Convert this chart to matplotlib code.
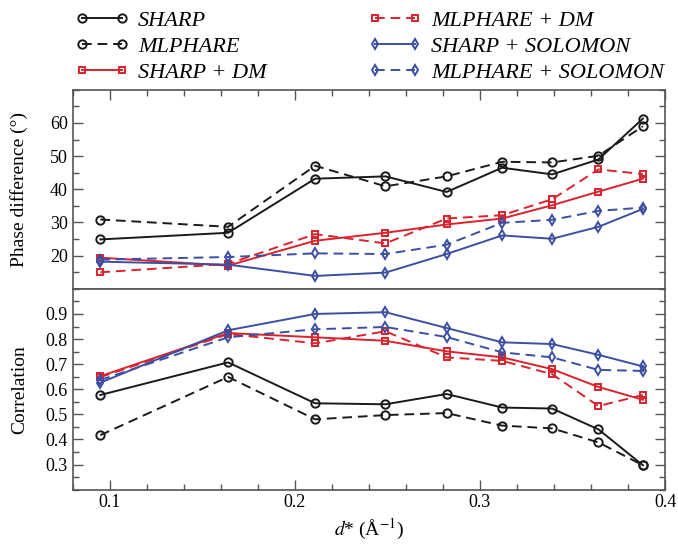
import matplotlib
matplotlib.use('Agg')
import matplotlib.pyplot as plt
from matplotlib.ticker import MultipleLocator

plt.rcParams['font.family'] = ['Liberation Serif', 'DejaVu Serif']
plt.rcParams['mathtext.fontset'] = 'stix'

# resolution shells
dstar = [0.095, 0.164, 0.211, 0.249, 0.282, 0.312, 0.339, 0.364, 0.388]

# phase difference (deg)
phase_sharp = [24.9, 26.9, 43.2, 43.9, 39.2, 46.5, 44.5, 49.0, 61.3]
phase_mlphare = [30.9, 28.7, 47.1, 40.9, 43.9, 48.3, 48.1, 50.1, 59.0]
phase_sharp_dm = [19.4, 17.0, 24.5, 26.9, 29.4, 31.2, 35.2, 39.3, 43.2]
phase_mlphare_dm = [15.0, 17.5, 26.5, 23.7, 31.2, 32.2, 37.0, 46.0, 44.6]
phase_sharp_sol = [18.2, 17.3, 13.9, 14.9, 20.5, 26.1, 25.1, 28.7, 34.1]
phase_mlphare_sol = [18.8, 19.6, 20.7, 20.5, 23.3, 29.9, 30.8, 33.5, 34.5]

# correlation
corr_sharp = [0.577, 0.707, 0.544, 0.540, 0.581, 0.527, 0.523, 0.440, 0.297]
corr_mlphare = [0.417, 0.649, 0.480, 0.497, 0.505, 0.455, 0.444, 0.388, 0.297]
corr_sharp_dm = [0.652, 0.824, 0.807, 0.793, 0.751, 0.727, 0.680, 0.609, 0.558]
corr_mlphare_dm = [0.648, 0.820, 0.783, 0.831, 0.727, 0.713, 0.660, 0.533, 0.577]
corr_sharp_sol = [0.626, 0.835, 0.900, 0.907, 0.844, 0.787, 0.780, 0.737, 0.691]
corr_mlphare_sol = [0.637, 0.807, 0.839, 0.848, 0.808, 0.747, 0.727, 0.677, 0.673]

labels = ['SHARP', 'MLPHARE', 'SHARP + DM', 'MLPHARE + DM',
          'SHARP + SOLOMON', 'MLPHARE + SOLOMON']

black = '#1a1a1a'
red = '#d9232d'
blue = '#3b4fa3'
styles = [
    dict(color=black, ls='-', marker='o', ms=6),
    dict(color=black, ls=(0, (5, 3)), marker='o', ms=6),
    dict(color=red, ls='-', marker='s', ms=5),
    dict(color=red, ls=(0, (5, 3)), marker='s', ms=5),
    dict(color=blue, ls='-', marker='d', ms=5),
    dict(color=blue, ls=(0, (5, 3)), marker='d', ms=5),
]

phase = [phase_sharp, phase_mlphare, phase_sharp_dm, phase_mlphare_dm,
         phase_sharp_sol, phase_mlphare_sol]
corr = [corr_sharp, corr_mlphare, corr_sharp_dm, corr_mlphare_dm,
        corr_sharp_sol, corr_mlphare_sol]

fig = plt.figure(figsize=(6.78, 5.44), dpi=100)
ax1 = fig.add_axes([0.107, 0.469, 0.874, 0.366])
ax2 = fig.add_axes([0.107, 0.100, 0.874, 0.369], sharex=ax1)

handles = []
for st, p, c, lab in zip(styles, phase, corr, labels):
    kw = dict(color=st['color'], ls=st['ls'], marker=st['marker'], ms=st['ms'],
              lw=1.4, mfc='none', mec=st['color'], mew=1.4)
    h, = ax1.plot(dstar, p, label=lab, **kw)
    ax2.plot(dstar, c, **kw)
    handles.append(h)

ax1.set_xlim(0.08, 0.4)
ax1.set_ylim(10, 70)
ax2.set_ylim(0.2, 1.0)

ax1.yaxis.set_major_locator(MultipleLocator(10))
ax1.yaxis.set_minor_locator(MultipleLocator(5))
ax1.set_yticks([20, 30, 40, 50, 60])
ax2.set_yticks([0.3, 0.4, 0.5, 0.6, 0.7, 0.8, 0.9])
ax2.yaxis.set_minor_locator(MultipleLocator(0.05))
ax2.xaxis.set_major_locator(MultipleLocator(0.1))
ax2.xaxis.set_minor_locator(MultipleLocator(0.02))
ax2.set_xticks([0.1, 0.2, 0.3, 0.4])
ax2.set_xticklabels(['0.1', '0.2', '0.3', '0.4'])

spine_col = '#555555'
for ax in (ax1, ax2):
    for s in ax.spines.values():
        s.set_color(spine_col)
        s.set_linewidth(1.2)
    ax.tick_params(which='both', direction='in', color=spine_col, labelsize=13,
                   right=True, left=True)
    ax.tick_params(which='major', length=7, width=1)
    ax.tick_params(which='minor', length=4, width=1)

ax1.tick_params(which='both', top=True, bottom=False, labelbottom=False)
ax2.tick_params(which='both', top=False, bottom=True)

ax1.set_ylabel('Phase difference (°)', fontsize=14, labelpad=6)
ax2.set_ylabel('Correlation', fontsize=14, labelpad=6)
ax2.set_xlabel(r'$\mathit{d}$* (Å$^{-1}$)', fontsize=14, labelpad=4)
ax1.yaxis.set_label_coords(-0.075, 0.5)
ax2.yaxis.set_label_coords(-0.075, 0.5)

fig.legend(handles=handles, labels=labels, loc='upper left', ncol=2,
           bbox_to_anchor=(0.082, 1.018), frameon=False, numpoints=2,
           handlelength=2.4, handletextpad=0.4, columnspacing=4.6,
           labelspacing=0.25,
           prop={'family': 'Liberation Serif', 'style': 'italic', 'size': 16})

fig.savefig('out.png', dpi=100)
